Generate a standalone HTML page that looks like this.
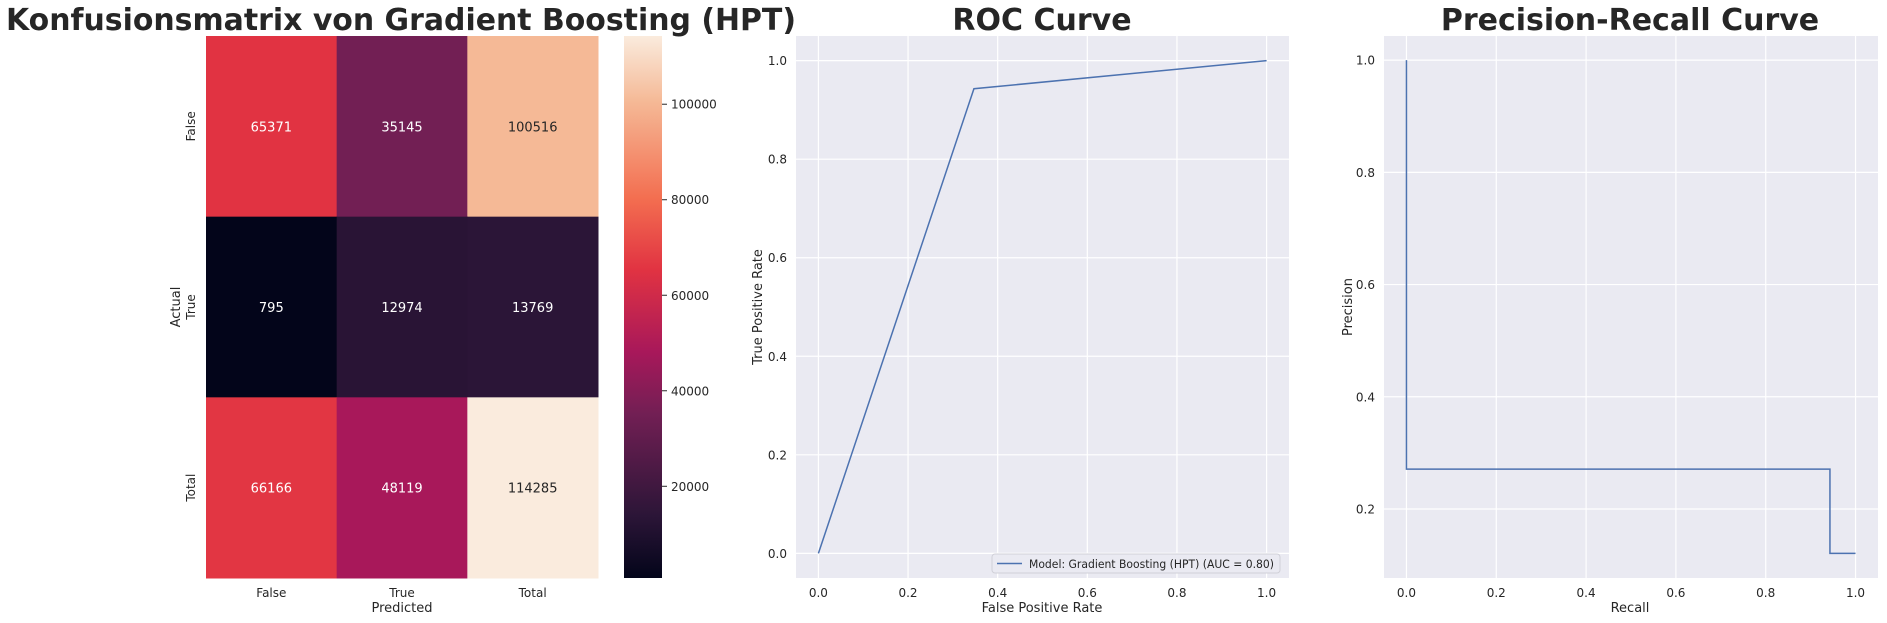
<!DOCTYPE html>
<html><head><meta charset="utf-8"><style>
html,body{margin:0;padding:0;background:#fff;}
svg{display:block;font-family:"DejaVu Sans","Liberation Sans",sans-serif;}
</style></head><body>
<svg id="fig" width="1887" height="623" viewBox="0 0 1887 623" xmlns="http://www.w3.org/2000/svg"></svg>
<script>
// ---- data ----
const cmRowLabels = ["False","True","Total"];
const cmColLabels = ["False","True","Total"];
const cmValues = [[65371,35145,100516],[795,12974,13769],[66166,48119,114285]];
const cbTicks = [20000,40000,60000,80000,100000];
const rocFpr = [0,0.347,1];
const rocTpr = [0,0.943,1];
const prRecall = [0,0,0.943,0.943,1];
const prPrecision = [1,0.271,0.271,0.121,0.121];
const axisTicks = [0,0.2,0.4,0.6,0.8,1.0];
const prYTicks = [0.2,0.4,0.6,0.8,1.0];

const NS="http://www.w3.org/2000/svg";
const svg=document.getElementById('fig');
function mk(tag,attrs,parent){const e=document.createElementNS(NS,tag);for(const k in attrs)e.setAttribute(k,attrs[k]);(parent||svg).appendChild(e);return e;}
function txt(s,attrs,parent){const e=mk('text',attrs,parent);e.textContent=s;return e;}
const TC="#262626";

const stops=[[0,[3,5,26]],[0.114,[43,21,55]],[0.303,[114,31,84]],[0.417,[168,24,90]],[0.569,[225,51,66]],[0.7,[243,110,80]],[0.879,[245,185,150]],[1,[250,235,221]]];
function cmap(t){t=Math.max(0,Math.min(1,t));for(let i=1;i<stops.length;i++){if(t<=stops[i][0]){const a=stops[i-1],b=stops[i];const f=(t-a[0])/(b[0]-a[0]);const c=a[1].map((v,j)=>Math.round(v+(b[1][j]-v)*f));return `rgb(${c[0]},${c[1]},${c[2]})`;}}return 'rgb(250,235,221)';}

let t;
t=txt("Konfusionsmatrix von Gradient Boosting (HPT)",{x:401,y:30,'text-anchor':'middle','font-size':30,'font-weight':'bold',fill:TC,textLength:790,lengthAdjust:'spacingAndGlyphs'});

t=txt("ROC Curve",{x:1042,y:30,'text-anchor':'middle','font-size':30,'font-weight':'bold',fill:TC});

t=txt("Precision-Recall Curve",{x:1630,y:30,'text-anchor':'middle','font-size':30,'font-weight':'bold',fill:TC});


// ---- heatmap ----
const hm={x0:206,x1:598,y0:36,y1:578};
const vmin=795,vmax=114285;
const cw=(hm.x1-hm.x0)/cmColLabels.length, ch=(hm.y1-hm.y0)/cmRowLabels.length;
const hg=mk('g',{});
cmValues.forEach((row,r)=>row.forEach((v,c)=>{
  const tt=(v-vmin)/(vmax-vmin);
  const rect=mk('rect',{x:hm.x0+c*cw,y:hm.y0+r*ch,width:cw+0.5,height:ch+0.5,fill:cmap(tt)},hg);
  
  
  const lab=txt(String(v),{x:hm.x0+(c+0.5)*cw,y:hm.y0+(r+0.5)*ch+5,'text-anchor':'middle','font-size':13,fill:tt>0.7?TC:'#fff'},hg);
  
  
}));
cmColLabels.forEach((l,c)=>{const e=txt(l,{x:hm.x0+(c+0.5)*cw,y:597,'text-anchor':'middle','font-size':12,fill:TC});
  });
cmRowLabels.forEach((l,r)=>{const cy=hm.y0+(r+0.5)*ch;const e=txt(l,{x:195,y:cy,'text-anchor':'middle','font-size':12,fill:TC,transform:`rotate(-90 195 ${cy})`});
  });
t=txt("Predicted",{x:402,y:612,'text-anchor':'middle','font-size':13,fill:TC});
t=txt("Actual",{x:180,y:307,'text-anchor':'middle','font-size':13,fill:TC,transform:'rotate(-90 180 307)'});

const cb={x0:624,x1:662,y0:36,y1:578};
const defs=mk('defs',{});const lg=mk('linearGradient',{id:'rk',x1:0,y1:1,x2:0,y2:0},defs);
stops.forEach(s=>mk('stop',{offset:s[0],'stop-color':`rgb(${s[1].join(',')})`},lg));
t=mk('rect',{x:cb.x0,y:cb.y0,width:cb.x1-cb.x0,height:cb.y1-cb.y0,fill:'url(#rk)'});
const cbY=v=>cb.y1-(v-vmin)/(vmax-vmin)*(cb.y1-cb.y0);
cbTicks.forEach(v=>{const y=cbY(v);mk('line',{x1:cb.x1,x2:cb.x1+5,y1:y,y2:y,stroke:TC,'stroke-width':1});
  const e=txt(String(v),{x:cb.x1+9,y:y+4.5,'font-size':12,fill:TC});});

function axes(name,box,xr,yr,xt,yt){
  const g=mk('g',{});
  mk('rect',{x:box.x0,y:box.y0,width:box.x1-box.x0,height:box.y1-box.y0,fill:'#eaeaf2'},g);
  const X=v=>box.x0+(v-xr[0])/(xr[1]-xr[0])*(box.x1-box.x0);
  const Y=v=>box.y1-(v-yr[0])/(yr[1]-yr[0])*(box.y1-box.y0);
  xt.forEach(v=>{mk('line',{x1:X(v),x2:X(v),y1:box.y0,y2:box.y1,stroke:'#fff','stroke-width':1.2},g);
    const e=txt(v.toFixed(1),{x:X(v),y:box.y1+19,'text-anchor':'middle','font-size':12,fill:TC},g);});
  yt.forEach(v=>{mk('line',{x1:box.x0,x2:box.x1,y1:Y(v),y2:Y(v),stroke:'#fff','stroke-width':1.2},g);
    const e=txt(v.toFixed(1),{x:box.x0-9,y:Y(v)+4.5,'text-anchor':'end','font-size':12,fill:TC},g);});
  return {g,X,Y};
}

const roc={x0:796,x1:1289,y0:36,y1:578};
const ra=axes('roc-axes',roc,[-0.05,1.05],[-0.05,1.05],axisTicks,axisTicks);
t=mk('polyline',{points:rocFpr.map((v,i)=>ra.X(v)+','+ra.Y(rocTpr[i])).join(' '),fill:'none',stroke:'#4c72b0','stroke-width':1.5},ra.g);

t=txt("False Positive Rate",{x:1042,y:612,'text-anchor':'middle','font-size':13,fill:TC});
t=txt("True Positive Rate",{x:762,y:307,'text-anchor':'middle','font-size':13,fill:TC,transform:'rotate(-90 762 307)'});
const lgG=mk('g',{});
mk('rect',{x:992,y:554,width:288,height:19,rx:3,fill:'#eaeaf2',stroke:'#d0d0d8','stroke-width':1},lgG);
mk('line',{x1:997,x2:1022,y1:563.5,y2:563.5,stroke:'#4c72b0','stroke-width':1.5},lgG);
t=txt("Model: Gradient Boosting (HPT) (AUC = 0.80)",{x:1029,y:568,'font-size':11.5,fill:TC,textLength:245,lengthAdjust:'spacingAndGlyphs'},lgG);

const pr={x0:1384,x1:1878,y0:36,y1:578};
const pa=axes('pr-axes',pr,[-0.05,1.05],[0.077,1.043],axisTicks,prYTicks);
t=mk('polyline',{points:prRecall.map((v,i)=>pa.X(v)+','+pa.Y(prPrecision[i])).join(' '),fill:'none',stroke:'#4c72b0','stroke-width':1.5},pa.g);

t=txt("Recall",{x:1630,y:612,'text-anchor':'middle','font-size':13,fill:TC});
t=txt("Precision",{x:1352,y:307,'text-anchor':'middle','font-size':13,fill:TC,transform:'rotate(-90 1352 307)'});
</script>
</body></html>
